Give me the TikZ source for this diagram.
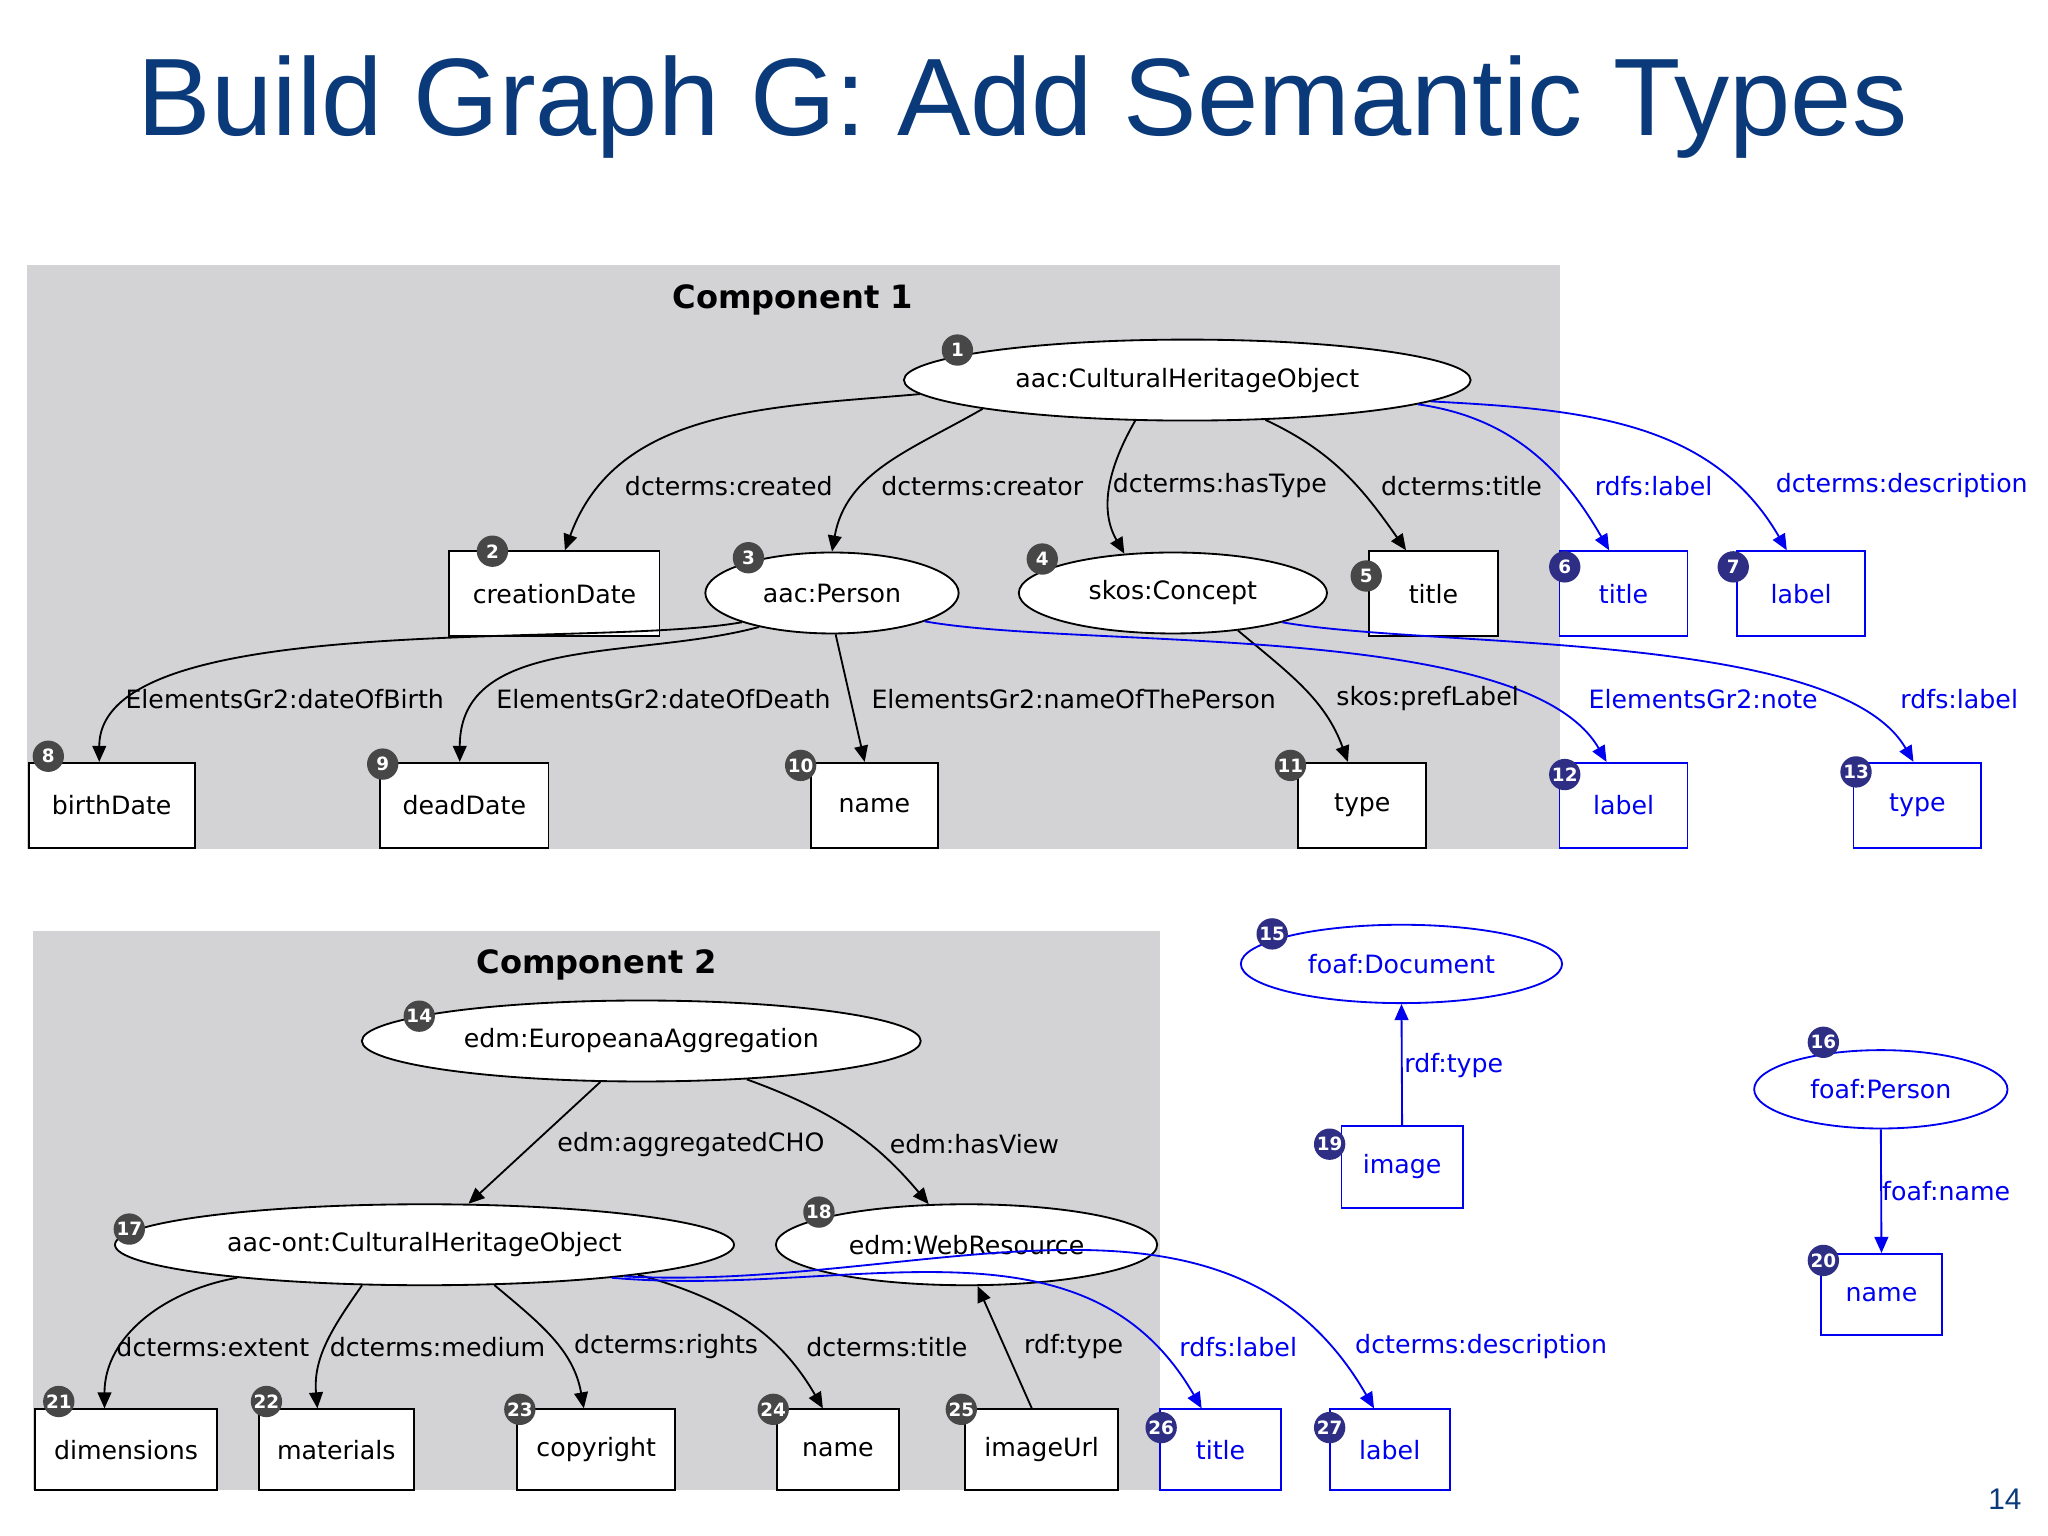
\documentclass[tikz,border=0pt]{standalone}
\usepackage{fontspec}
\setmainfont{DejaVu Sans}
\newfontfamily\titlefont{Liberation Sans}
\usetikzlibrary{shapes.geometric,arrows.meta}
\definecolor{bg}{HTML}{D3D2D5}
\definecolor{ttl}{HTML}{0B3A7A}
\definecolor{bdk}{HTML}{474747}
\definecolor{bbl}{HTML}{2E2E85}
\definecolor{lb}{HTML}{0000F0}
\begin{document}
\begin{tikzpicture}[x=0.02cm,y=-0.02cm,
 font=\fontsize{11}{13}\selectfont,
 ell/.style={ellipse,draw,fill=white,inner sep=0pt,line width=0.8pt},
 box/.style={rectangle,draw,fill=white,inner sep=0pt,line width=0.8pt,minimum height=1.3cm},
 bl/.style={draw=lb,text=lb},
 e/.style={-{Triangle[length=7pt,width=6pt]},line width=0.8pt},
 eb/.style={e,draw=lb},
 lab/.style={inner sep=1pt},
 labb/.style={lab,text=lb},
 badge/.style={circle,fill=bdk,text=white,inner sep=0pt,minimum size=0.48cm,font=\fontsize{8}{9}\bfseries\selectfont},
 badgeb/.style={badge,fill=bbl}]
\useasboundingbox (0,0) rectangle (1568,1176);
\fill[white] (0,0) rectangle (1568,1176);
\node[text=ttl,font=\titlefont\fontsize{48}{56}\selectfont] (T) at (783,82) {Build Graph G: Add Semantic Types};
\fill[bg] (21,203) rectangle (1194,650);
\fill[bg] (25,713) rectangle (888,1141);
\node[font=\fontsize{14}{16}\bfseries\selectfont] (c1) at (607,230) {Component 1};
\node[font=\fontsize{14}{16}\bfseries\selectfont] (c2) at (457,739) {Component 2};

% component 1 nodes
\node[ell,minimum width=8.68cm,minimum height=1.24cm] (n1) at (909,291) {aac:CulturalHeritageObject};
\node[box,minimum width=3.22cm] (n2) at (424.5,454.5) {creationDate};
\node[ell,minimum width=3.88cm,minimum height=1.24cm] (n3) at (637,454) {aac:Person};
\node[ell,minimum width=4.72cm,minimum height=1.24cm] (n4) at (898,454) {skos:Concept};
\node[box,minimum width=1.98cm] (n5) at (1097.5,454.5) {title};
\node[box,bl,minimum width=1.96cm] (n6) at (1243,454.5) {title};
\node[box,bl,minimum width=1.96cm] (n7) at (1379,454.5) {label};
\node[box,minimum width=2.54cm] (n8) at (85.5,616.5) {birthDate};
\node[box,minimum width=2.58cm] (n9) at (355.5,616.5) {deadDate};
\node[box,minimum width=1.94cm] (n10) at (669.5,616.5) {name};
\node[box,minimum width=1.96cm] (n11) at (1043,616.5) {type};
\node[box,bl,minimum width=1.96cm] (n12) at (1243,616.5) {label};
\node[box,bl,minimum width=1.96cm] (n13) at (1468,616.5) {type};

% component 2 nodes
\node[ell,minimum width=8.56cm,minimum height=1.24cm] (n14) at (491,797) {edm:EuropeanaAggregation};
\node[ell,bl,minimum width=4.92cm,minimum height=1.2cm] (n15) at (1073,738) {foaf:Document};
\node[ell,bl,minimum width=3.88cm,minimum height=1.2cm] (n16) at (1440,834) {foaf:Person};
\node[ell,minimum width=9.48cm,minimum height=1.24cm] (n17) at (325,953) {aac-ont:CulturalHeritageObject};
\node[ell,minimum width=5.84cm,minimum height=1.24cm] (n18) at (740,953) {edm:WebResource};
\node[box,bl,minimum width=1.86cm,minimum height=1.26cm] (n19) at (1073.5,893.5) {image};
\node[box,bl,minimum width=1.86cm,minimum height=1.24cm] (n20) at (1440.5,991) {name};
\node[box,minimum width=2.78cm,minimum height=1.24cm] (n21) at (96.5,1110) {dimensions};
\node[box,minimum width=2.38cm,minimum height=1.24cm] (n22) at (257.5,1110) {materials};
\node[box,minimum width=2.42cm,minimum height=1.24cm] (n23) at (456.5,1110) {copyright};
\node[box,minimum width=1.86cm,minimum height=1.24cm] (n24) at (641.5,1110) {name};
\node[box,minimum width=2.34cm,minimum height=1.24cm] (n25) at (797.5,1110) {imageUrl};
\node[box,bl,minimum width=1.86cm,minimum height=1.24cm] (n26) at (934.5,1110) {title};
\node[box,bl,minimum width=1.84cm,minimum height=1.24cm] (n27) at (1064,1110) {label};

% component 1 edges
\draw[e] (n1.183) to[out=185,in=70] ([xshift=0.16cm]n2.north);
\draw[e] (n1.188) to[out=210,in=80] (n3.north);
\draw[e] (n1.218) to[out=240,in=120] (n4.141);
\draw[e] (n1.333) to[out=-25,in=125] ([xshift=-0.42cm]n5.north);
\draw[eb] (n1.354) to[out=-8,in=120] ([xshift=-0.22cm]n6.north);
\draw[eb] (n1.355) to[out=-3,in=120] ([xshift=-0.22cm]n7.north);
\draw[e] (n3.198) to[out=190,in=90,looseness=0.6] ([xshift=-0.19cm]n8.north);
\draw[e] (n3.205) to[out=195,in=90] ([xshift=-0.07cm]n9.north);
\draw[e] (n3.275) -- ([xshift=-0.15cm]n10.north);
\draw[e] (n4.330) to[out=-40,in=110] ([xshift=-0.22cm]n11.north);
\draw[eb] (n3.343) to[out=-10,in=120,looseness=0.6] ([xshift=-0.26cm]n12.north);
\draw[eb] (n4.345) to[out=-10,in=120,looseness=0.6] ([xshift=-0.06cm]n13.north);

% component 2 edges
\draw[e] (n14.225) -- (n17.43);
\draw[e] (n14.340) to[out=-20,in=130] (n18.133);
\draw[eb] (n19.north) -- (n15.south);
\draw[eb] (n16.south) -- (n20.north);
\draw[e] (n17.190) to[out=190,in=90] ([xshift=-0.33cm]n21.north);
\draw[e] (n17.213) to[out=235,in=95] ([xshift=-0.29cm]n22.north);
\draw[e] (n17.330) to[out=-40,in=100] ([xshift=-0.19cm]n23.north);
\draw[e] (n17.352) to[out=-15,in=120] ([xshift=-0.23cm]n24.north);
\draw[e] ([xshift=-0.15cm]n25.north) -- (n18.285);
\draw[eb] (n17.350) to[out=-5,in=120] ([xshift=-0.29cm]n26.north);
\draw[eb] (n17.351) to[out=-3,in=120] ([xshift=-0.24cm]n27.north);

% edge labels
\node[lab] (l1) at (558,372) {dcterms:created};
\node[lab] (l2) at (752,372) {dcterms:creator};
\node[lab] (l3) at (934,372) {dcterms:hasType};
\node[lab] (l4) at (1119,372) {dcterms:title};
\node[labb] (l5) at (1266,372) {rdfs:label};
\node[labb] (l6) at (1456,372) {dcterms:description};
\node[lab] (l7) at (218,535) {ElementsGr2:dateOfBirth};
\node[lab] (l8) at (508,535) {ElementsGr2:dateOfDeath};
\node[lab] (l9) at (822,535) {ElementsGr2:nameOfThePerson};
\node[lab] (l10) at (1093,535) {skos:prefLabel};
\node[labb] (l11) at (1304,535) {ElementsGr2:note};
\node[labb] (l12) at (1500,535) {rdfs:label};
\node[lab] (l13) at (529,876) {edm:aggregatedCHO};
\node[lab] (l14) at (746,876) {edm:hasView};
\node[labb] (l15) at (1113,816) {rdf:type};
\node[labb] (l16) at (1490,912) {foaf:name};
\node[lab] (l17) at (163,1031) {dcterms:extent};
\node[lab] (l18) at (335,1031) {dcterms:medium};
\node[lab] (l19) at (510,1031) {dcterms:rights};
\node[lab] (l20) at (679,1031) {dcterms:title};
\node[lab] (l21) at (822,1031) {rdf:type};
\node[labb] (l22) at (948,1031) {rdfs:label};
\node[labb] (l23) at (1134,1031) {dcterms:description};

% badges
\node[badge] (b1) at (733,268) {1};
\node[badge] (b2) at (377,422) {2};
\node[badge] (b3) at (573,427) {3};
\node[badge] (b4) at (798,428) {4};
\node[badge] (b5) at (1046,441) {5};
\node[badgeb] (b6) at (1198,434) {6};
\node[badgeb] (b7) at (1327,434) {7};
\node[badge] (b8) at (37,579) {8};
\node[badge] (b9) at (293,585) {9};
\node[badge] (b10) at (613,586) {10};
\node[badge] (b11) at (988,586) {11};
\node[badgeb] (b12) at (1198,593) {12};
\node[badgeb] (b13) at (1421,591) {13};
\node[badge] (b14) at (321,778) {14};
\node[badgeb] (b15) at (974,715) {15};
\node[badgeb] (b16) at (1396,798) {16};
\node[badge] (b17) at (99,941) {17};
\node[badge] (b18) at (627,928) {18};
\node[badgeb] (b19) at (1018,876) {19};
\node[badgeb] (b20) at (1396,965) {20};
\node[badge] (b21) at (45,1073) {21};
\node[badge] (b22) at (204,1073) {22};
\node[badge] (b23) at (398,1079) {23};
\node[badge] (b24) at (592,1079) {24};
\node[badge] (b25) at (736,1079) {25};
\node[badgeb] (b26) at (889,1093) {26};
\node[badgeb] (b27) at (1018,1093) {27};

\node[font=\titlefont\fontsize{13}{15}\selectfont,text=ttl] (pg) at (1535,1148) {14};
\end{tikzpicture}
\end{document}
